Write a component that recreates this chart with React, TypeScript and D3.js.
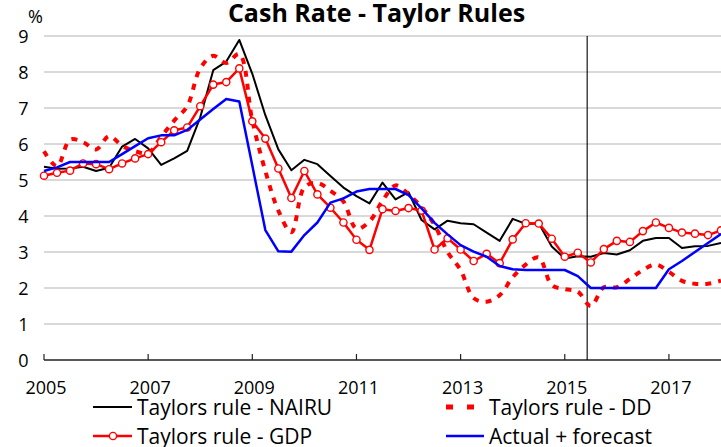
import React from "react";
import * as d3 from "d3";

const title = "Cash Rate - Taylor Rules";
const yearTicks = [2005, 2007, 2009, 2011, 2013, 2015, 2017];
const valueTicks = [0, 1, 2, 3, 4, 5, 6, 7, 8, 9];
const gridValues = [1, 2, 3, 4, 5, 6, 7, 8, 9];

// Quarterly values, 2005Q1 .. 2018Q1
const nairu = [5.37, 5.31, 5.32, 5.37, 5.25, 5.34, 5.93, 6.14, 5.88, 5.42, 5.6, 5.81, 6.74,
  8.05, 8.29, 8.89, 7.95, 6.8, 5.85, 5.27, 5.56, 5.44, 5.11, 4.79, 4.55,
  4.35, 4.93, 4.46, 4.66, 3.89, 3.63, 3.87, 3.8, 3.77, 3.54, 3.31, 3.92, 3.78, 3.8,
  3.15, 2.82, 2.88, 2.87, 2.97, 2.93, 3.05, 3.31, 3.39, 3.39, 3.11, 3.16, 3.17, 3.25];
const dd = [5.8, 5.38, 6.12, 6.05, 5.85, 6.22, 5.95, 5.8, 5.75, 6.2, 6.65, 7.05, 8.1, 8.45, 8.25, 8.5,
  6.65, 5.25, 4.15, 3.55, 4.8, 4.92, 4.7, 4.4,
  3.65, 3.85, 4.42, 4.85, 4.6, 4.25, 3.75, 3.0, 2.5, 1.72, 1.62, 1.8, 2.3, 2.65, 2.85,
  2.08, 1.97, 1.9, 1.5, 2.02, 2.02, 2.25, 2.5, 2.65, 2.45, 2.2, 2.12, 2.12, 2.2];
const gdp = [5.12, 5.2, 5.26, 5.46, 5.44, 5.3, 5.46, 5.6, 5.72, 6.05, 6.38, 6.46, 7.05,
  7.65, 7.72, 8.1, 6.63, 6.15, 5.32, 4.5, 5.25, 4.6, 4.23, 3.82, 3.34,
  3.06, 4.19, 4.14, 4.22, 4.15, 3.07, 3.38, 3.07, 2.75, 2.95, 2.69, 3.35, 3.8, 3.79,
  3.37, 2.87, 2.98, 2.71, 3.08, 3.31, 3.28, 3.58, 3.82, 3.67, 3.54, 3.51, 3.47, 3.6];
const actual = [5.25, 5.35, 5.5, 5.5, 5.5, 5.5, 5.72, 5.94, 6.16, 6.24, 6.24, 6.39, 6.68, 6.97, 7.25, 7.18,
  5.4, 3.61, 3.02, 3.01, 3.47, 3.82, 4.37, 4.49, 4.68,
  4.75, 4.75, 4.75, 4.58, 4.21, 3.81, 3.49, 3.19, 3.01, 2.87, 2.61, 2.52,
  2.5, 2.5, 2.5, 2.5, 2.33, 2.0, 2.0, 2.0, 2.0, 2.0, 2.0, 2.52, 2.75, 3.0, 3.25, 3.5];
const forecastStart = 2015.43;
const quarters = nairu.map((_, i) => 2005 + i / 4);

const legendNames = ["Taylors rule - NAIRU", "Taylors rule - DD", "Taylors rule - GDP", "Actual + forecast"];

const FONT = "'Open Sans', 'Noto Sans', sans-serif";

export default function App() {
  const W = 721;
  const H = 447;
  const x = d3.scaleLinear().domain([2005, 2018]).range([44, 721]);
  const y = d3.scaleLinear().domain([0, 9]).range([360, 36]);
  const line = d3
    .line<number>()
    .x((_, i) => x(quarters[i]))
    .y((d) => y(d));
  const smoothLine = d3
    .line<number>()
    .x((_, i) => x(quarters[i]))
    .y((d) => y(d))
    .curve(d3.curveCatmullRom.alpha(0.5));

  return (
    <svg
      width={W}
      height={H}
      viewBox={`0 0 ${W} ${H}`}
      style={{ position: "absolute", left: 0, top: 0, background: "#fff" }}
      fontFamily={FONT}
    >
      <rect x={0} y={0} width={W} height={H} fill="#fff" />
      <text x={376.5} y={22} textAnchor="middle" fontSize={25} fontWeight="bold" fill="#000">
        {title}
      </text>
      <text x={28} y={23} fontSize={18} fill="#000">%</text>

      {gridValues.map((v) => (
        <line key={"g" + v} x1={44} x2={721} y1={y(v)} y2={y(v)} stroke="#b4b4b4" strokeWidth={1.2} />
      ))}
      {valueTicks.map((v) => (
        <text key={"yt" + v} x={28.5} y={y(v) + 7} textAnchor="end" fontSize={18} fill="#000">
          {v}
        </text>
      ))}

      <line x1={44} x2={721} y1={y(0)} y2={y(0)} stroke="#222" strokeWidth={1.4} />
      {yearTicks.map((t) => (
        <g key={"xt" + t}>
          <line x1={x(t)} x2={x(t)} y1={y(0)} y2={y(0) - 6} stroke="#222" strokeWidth={1.2} />
          <text x={x(t) + 2} y={394} textAnchor="middle" fontSize={18} fill="#000">
            {t}
          </text>
        </g>
      ))}

      <line x1={x(forecastStart)} x2={x(forecastStart)} y1={y(9)} y2={y(0)} stroke="#000" strokeWidth={1.1} />

      <path d={line(nairu) || ""} fill="none" stroke="#000" strokeWidth={2} strokeLinejoin="round" />
      <path d={smoothLine(dd) || ""} fill="none" stroke="#ff0000" strokeWidth={4} strokeDasharray="6,7" />
      <path d={line(gdp) || ""} fill="none" stroke="#ff0000" strokeWidth={2.5} strokeLinejoin="round" />
      {gdp.map((v, i) => (
        <circle key={"c" + i} cx={x(quarters[i])} cy={y(v)} r={3.6} fill="#fff" stroke="#ff0000" strokeWidth={1.4} />
      ))}
      <path d={line(actual) || ""} fill="none" stroke="#0000ff" strokeWidth={2.5} strokeLinejoin="round" />

      {/* legend */}
      <g fontSize={21} fill="#000">
        <line x1={93} x2={132} y1={407} y2={407} stroke="#000" strokeWidth={2} />
        <text x={137} y={414.5}>{legendNames[0]}</text>

        <rect x={446} y={404.5} width={7} height={5} fill="#ff0000" />
        <rect x={467} y={404.5} width={7} height={5} fill="#ff0000" />
        <text x={489} y={414.5}>{legendNames[1]}</text>

        <line x1={93} x2={132} y1={436} y2={436} stroke="#ff0000" strokeWidth={2.5} />
        <circle cx={113} cy={436} r={3.6} fill="#fff" stroke="#ff0000" strokeWidth={1.4} />
        <text x={137} y={443.5}>{legendNames[2]}</text>

        <line x1={446} x2={484} y1={436} y2={436} stroke="#0000ff" strokeWidth={2.5} />
        <text x={489} y={443.5}>{legendNames[3]}</text>
      </g>
    </svg>
  );
}
